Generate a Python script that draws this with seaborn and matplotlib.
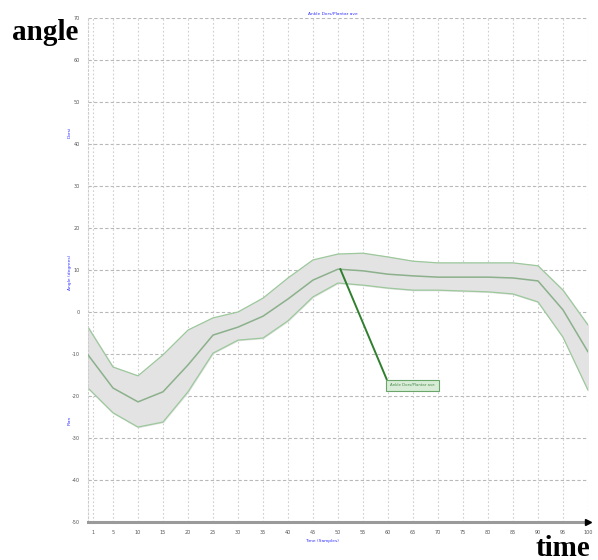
import numpy as np
import pandas as pd
import matplotlib
matplotlib.use("Agg")
import matplotlib.pyplot as plt
import seaborn as sns

# Gait cycle samples and ankle angle statistics (degrees)
time_pct = [0, 5, 10, 15, 20, 25, 30, 35, 40, 45, 50,
            55, 60, 65, 70, 75, 80, 85, 90, 95, 100]
angle_mean = [-10.2, -18.1, -21.4, -19.0, -12.6, -5.5, -3.6, -1.0, 3.1, 7.6, 10.2,
              9.8, 9.0, 8.6, 8.3, 8.3, 8.3, 8.1, 7.4, 0.5, -9.5]
angle_upper = [-3.6, -13.1, -15.2, -10.2, -4.3, -1.4, 0.0, 3.3, 8.1, 12.4, 13.8,
               14.0, 13.1, 12.1, 11.7, 11.7, 11.7, 11.7, 11.0, 5.2, -3.1]
angle_lower = [-18.1, -24.0, -27.4, -26.2, -19.0, -9.8, -6.7, -6.2, -2.1, 3.6, 6.9,
               6.4, 5.7, 5.2, 5.2, 5.0, 4.8, 4.3, 2.4, -6.0, -18.6]

x_ticks = [1, 5, 10, 15, 20, 25, 30, 35, 40, 45, 50,
           55, 60, 65, 70, 75, 80, 85, 90, 95, 100]
y_ticks = [-50, -40, -30, -20, -10, 0, 10, 20, 30, 40, 50, 60, 70]

# callout: anchor on the mean curve at peak, label box placed below
callout_anchor = (50.4, 10.4)
callout_corner = (59.8, -16.2)
callout_text = "Ankle Dors/Plantar ave"

df = pd.DataFrame({"time": time_pct, "mean": angle_mean,
                   "upper": angle_upper, "lower": angle_lower})

sns.set_theme(style="white")
plt.rcParams["font.family"] = ["DejaVu Sans"]

fig = plt.figure(figsize=(5.98, 5.60), dpi=100)
ax = fig.add_axes([88 / 598, 38 / 560, 500 / 598, 504 / 560])

# grid
for yv in y_ticks:
    ax.axhline(yv, color="#b8b8b8", lw=0.8, ls=(0, (3, 2)), zorder=0)
for xv in x_ticks:
    ax.axvline(xv, color="#cfcfcf", lw=0.8, ls=(0, (1.5, 2)), zorder=0)

# standard deviation band and mean curve
ax.fill_between(df["time"], df["lower"], df["upper"], color="#e3e3e3", zorder=1)
sns.lineplot(data=df, x="time", y="upper", ax=ax, color="#9cc89c", lw=0.9, zorder=2)
sns.lineplot(data=df, x="time", y="lower", ax=ax, color="#9cc89c", lw=0.9, zorder=2)
sns.lineplot(data=df, x="time", y="mean", ax=ax, color="#8bb08b", lw=1.1, zorder=3)

ax.set_xlim(0, 100)
ax.set_ylim(-50, 70)
ax.set_xticks(x_ticks)
ax.set_xticklabels([str(v) for v in x_ticks], fontsize=3.5, color="#555555")
ax.set_yticks(y_ticks)
ax.set_yticklabels([str(v) for v in y_ticks], fontsize=3.5, color="#555555")
ax.tick_params(axis="both", length=4, width=0.8, color="#666666", pad=2)
ax.set_xlabel("")
ax.set_ylabel("")

for side in ["top", "right"]:
    ax.spines[side].set_visible(False)
ax.spines["left"].set_color("#cccccc")
ax.spines["left"].set_linestyle((0, (1.5, 2)))
ax.spines["left"].set_linewidth(0.8)
ax.spines["bottom"].set_color("#9a9a9a")
ax.spines["bottom"].set_linewidth(2.2)
ax.plot([100], [-50], marker=">", color="black", ms=4, clip_on=False, zorder=5)

# callout leader line and label box
ax.plot([callout_anchor[0], callout_corner[0]], [callout_anchor[1], callout_corner[1]],
        color="#2f7f2f", lw=1.4, solid_capstyle="butt", zorder=4)
ax.text(callout_corner[0] + 0.6, callout_corner[1] - 1.3, callout_text,
        fontsize=2.8, color="#4a8a4a", ha="left", va="center", zorder=5,
        bbox=dict(boxstyle="square,pad=1.0", fc="#d8ecd8", ec="#6aa66a", lw=0.8))

# small blue captions
fig.text(333 / 598, 1 - 14 / 560, "Ankle Dors/Plantar ave", fontsize=3.2,
         color="#3333ff", ha="center", va="center")
fig.text(322 / 598, 1 - 541 / 560, "Time (Samples)", fontsize=3.2,
         color="#3333ff", ha="center", va="center")
fig.text(70 / 598, 1 - 132 / 560, "Dorsi", fontsize=3.2, color="#3333ff",
         rotation=90, ha="center", va="center")
fig.text(70 / 598, 1 - 272 / 560, "Angle (degrees)", fontsize=3.2, color="#3333ff",
         rotation=90, ha="center", va="center")
fig.text(70 / 598, 1 - 420 / 560, "Plan", fontsize=3.2, color="#3333ff",
         rotation=90, ha="center", va="center")

# axis names
fig.text(12 / 598, 1 - 33 / 560, "angle", fontsize=21, fontweight="bold",
         family=["Liberation Serif"], color="black", ha="left", va="center")
fig.text(590 / 598, 1 - 548 / 560, "time", fontsize=21, fontweight="bold",
         family=["Liberation Serif"], color="black", ha="right", va="center")

fig.savefig("out.png", dpi=100, facecolor="white")
